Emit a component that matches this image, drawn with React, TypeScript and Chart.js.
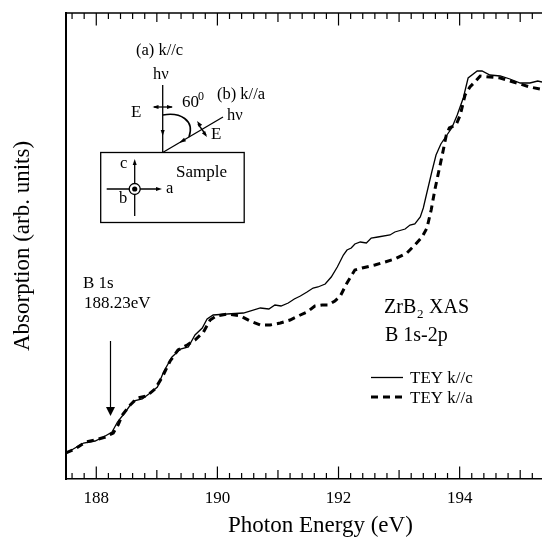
import React, { useEffect, useRef } from "react";
import { Chart, registerables } from "chart.js";

Chart.register(...registerables);

const SERIF = '"Liberation Serif", serif';

const energyC = [187.5,187.62,187.79,187.98,188.12,188.26,188.35,188.48,188.61,188.76,188.89,189.01,189.11,189.25,189.39,189.52,189.63,189.75,189.83,189.93,190.16,190.43,190.71,190.85,190.95,191.05,191.17,191.27,191.37,191.48,191.58,191.66,191.78,191.88,191.98,192.08,192.14,192.21,192.27,192.36,192.46,192.54,192.65,192.85,192.93,193.1,193.18,193.26,193.35,193.4,193.45,193.54,193.61,193.69,193.79,193.87,193.96,194.06,194.14,194.29,194.37,194.5,194.67,194.83,195,195.16,195.29,195.36];
const absorptionC = [26,30,36,38,42,47,57,67,78,80,86,92,107,122,130,132,144,151,160,164,165,166,171,170,174,173,176,180,183,187,191,192,195,202,212,224,229,231,235,237,236,241,242,244,247,250,254,255,262,271,284,307,324,335,344,351,364,381,401,408,408,404,403,400,396,396,398,397];

const energyA = [187.5,187.65,187.82,187.98,188.15,188.28,188.36,188.43,188.56,188.68,188.83,188.97,189.09,189.22,189.35,189.5,189.63,189.77,189.88,189.98,190.16,190.38,190.54,190.71,190.87,191.04,191.2,191.37,191.48,191.61,191.73,191.83,191.94,192.03,192.14,192.22,192.27,192.39,192.6,192.77,192.93,193.13,193.26,193.38,193.46,193.53,193.59,193.66,193.73,193.78,193.83,193.94,194.01,194.09,194.17,194.25,194.34,194.5,194.67,194.83,195,195.16,195.33];
const absorptionA = [26,30,37,39,42,46,54,64,74,81,83,90,102,118,129,134,139,147,159,163,165,163,158,154,154,156,159,164,167,173,174,174,178,183,196,204,209,211,214,217,220,226,234,242,251,269,289,309,329,344,351,354,364,384,392,397,403,402,401,398,395,392,390];

const majorTicks = [188, 190, 192, 194];
const midTicks = [189, 191, 193, 195];
const minorTicks = [187.6,187.8,188.2,188.4,188.6,188.8,189.2,189.4,189.6,189.8,190.2,190.4,190.6,190.8,191.2,191.4,191.6,191.8,192.2,192.4,192.6,192.8,193.2,193.4,193.6,193.8,194.2,194.4,194.6,194.8,195.2];

const seriesLabels = ["TEY k//c", "TEY k//a"];

function arrow(ctx: CanvasRenderingContext2D, x: number, y: number, ang: number, len: number, w: number) {
  ctx.save();
  ctx.translate(x, y);
  ctx.rotate(ang);
  ctx.beginPath();
  ctx.moveTo(0, 0);
  ctx.lineTo(-len, -w / 2);
  ctx.lineTo(-len, w / 2);
  ctx.closePath();
  ctx.fill();
  ctx.restore();
}

function seg(ctx: CanvasRenderingContext2D, x1: number, y1: number, x2: number, y2: number) {
  ctx.beginPath();
  ctx.moveTo(x1, y1);
  ctx.lineTo(x2, y2);
  ctx.stroke();
}

const overlay = {
  id: "overlay",
  afterDraw(chart: any) {
    const ctx: CanvasRenderingContext2D = chart.ctx;
    const { top, bottom, left, right } = chart.chartArea;
    const x = chart.scales.x;
    ctx.save();
    ctx.strokeStyle = "#000";
    ctx.fillStyle = "#000";
    ctx.lineCap = "butt";

    // top axis line and inward ticks on both horizontal axes
    ctx.lineWidth = 1.6;
    seg(ctx, left, top, right, top);
    ctx.lineWidth = 1.2;
    const drawTicks = (vals: number[], len: number) => {
      vals.forEach((v) => {
        const px = x.getPixelForValue(v);
        seg(ctx, px, bottom, px, bottom - len);
        seg(ctx, px, top, px, top + len);
      });
    };
    drawTicks(minorTicks, 6);
    drawTicks(midTicks, 9);
    drawTicks(majorTicks, 12.5);

    ctx.textBaseline = "alphabetic";
    ctx.textAlign = "left";
    const text = (s: string, tx: number, ty: number, size = 16.5) => {
      ctx.font = `${size}px ${SERIF}`;
      ctx.fillText(s, tx, ty);
    };

    // x axis title
    text("Photon Energy (eV)", 228, 532, 23);

    // B 1s annotation
    text("B 1s", 83, 288, 17);
    text("188.23eV", 84, 308, 17);
    ctx.lineWidth = 1.2;
    seg(ctx, 110.5, 341, 110.5, 408);
    arrow(ctx, 110.5, 416, Math.PI / 2, 9, 9);

    // title text
    text("ZrB", 384, 313, 20);
    text("2", 417, 318, 13);
    text("XAS", 429, 313, 20);
    text("B 1s-2p", 385, 341, 20);

    // legend
    ctx.lineWidth = 1.3;
    seg(ctx, 371, 377.5, 403, 377.5);
    ctx.lineWidth = 3;
    ctx.setLineDash([7, 5]);
    seg(ctx, 371, 397, 402, 397);
    ctx.setLineDash([]);
    text(seriesLabels[0], 410, 383, 17);
    text(seriesLabels[1], 410, 403, 17);

    // inset: geometry diagram
    text("(a) k//c", 136, 55, 16.5);
    text("hν", 153, 79, 16.5);
    text("(b) k//a", 217, 99, 16.5);
    text("60", 182, 107, 17);
    text("0", 198, 100, 12);
    text("E", 131, 117, 17);
    text("E", 211, 139, 17);
    text("hν", 227, 120, 16.5);
    text("Sample", 176, 177, 17);
    text("c", 120, 168, 16.5);
    text("a", 166, 193, 16.5);
    text("b", 119, 203, 16.5);

    ctx.lineWidth = 1.3;
    ctx.strokeRect(100.7, 152.5, 143.5, 70);
    seg(ctx, 162.7, 85, 162.7, 152.5);
    arrow(ctx, 162.7, 136, Math.PI / 2, 6, 4);
    seg(ctx, 154, 107, 172, 107);
    arrow(ctx, 152.5, 107, Math.PI, 6, 4);
    arrow(ctx, 173, 107, 0, 6, 4);
    seg(ctx, 162.7, 152.5, 223, 117);
    arrow(ctx, 179, 143, Math.PI - 0.53, 7, 4);
    ctx.lineWidth = 1.6;
    ctx.beginPath();
    ctx.moveTo(163, 115);
    ctx.bezierCurveTo(180, 112, 195, 120, 189, 137);
    ctx.stroke();
    ctx.lineWidth = 1.3;
    seg(ctx, 198, 124, 206, 135);
    arrow(ctx, 197, 121, -2.2, 6, 4);
    arrow(ctx, 207, 137, 0.95, 6, 4);

    seg(ctx, 134.7, 163, 134.7, 216);
    arrow(ctx, 134.7, 159, -Math.PI / 2, 6, 4);
    seg(ctx, 106.7, 189, 157, 189);
    arrow(ctx, 162, 189, 0, 6, 4);
    ctx.fillStyle = "#fff";
    ctx.beginPath();
    ctx.arc(134.7, 189, 5.5, 0, Math.PI * 2);
    ctx.fill();
    ctx.stroke();
    ctx.fillStyle = "#000";
    ctx.beginPath();
    ctx.arc(134.7, 189, 2.6, 0, Math.PI * 2);
    ctx.fill();

    ctx.restore();
  },
};

export default function App() {
  const ref = useRef<HTMLCanvasElement>(null);
  useEffect(() => {
    document.body.style.margin = "0";
    document.body.style.background = "#fff";
    const chart = new Chart(ref.current as HTMLCanvasElement, {
      type: "line",
      data: {
        datasets: [
          {
            label: seriesLabels[0],
            data: energyC.map((e, i) => ({ x: e, y: absorptionC[i] })),
            borderColor: "#000",
            borderWidth: 1.3,
            pointRadius: 0,
            tension: 0,
          },
          {
            label: seriesLabels[1],
            data: energyA.map((e, i) => ({ x: e, y: absorptionA[i] })),
            borderColor: "#000",
            borderWidth: 3,
            borderDash: [7, 5],
            pointRadius: 0,
            tension: 0,
          },
        ],
      },
      options: {
        animation: false,
        responsive: false,
        devicePixelRatio: 1,
        layout: { padding: { top: 13, right: 0, left: 0, bottom: 0 } },
        plugins: { legend: { display: false }, tooltip: { enabled: false } },
        scales: {
          x: {
            type: "linear",
            min: 187.5,
            max: 195.36,
            grid: { display: false, drawTicks: false },
            border: { display: true, color: "#000", width: 1.6 },
            ticks: {
              color: "#000",
              font: { family: SERIF, size: 17 },
              padding: 9,
              maxRotation: 0,
              autoSkip: false,
            },
            afterBuildTicks: (s: any) => {
              s.ticks = majorTicks.map((value) => ({ value }));
            },
            afterFit: (s: any) => {
              s.height = 59;
            },
          },
          y: {
            type: "linear",
            min: 0,
            max: 466,
            grid: { display: false, drawTicks: false },
            border: { display: true, color: "#000", width: 2 },
            ticks: { display: false },
            title: {
              display: true,
              text: "Absorption (arb. units)",
              color: "#000",
              font: { family: SERIF, size: 23 },
              padding: { top: 9, bottom: 0 },
            },
            afterFit: (s: any) => {
              s.width = 66;
            },
          },
        },
      },
      plugins: [overlay],
    } as any);
    return () => chart.destroy();
  }, []);
  return <canvas ref={ref} width={542} height={538} style={{ display: "block" }} />;
}
